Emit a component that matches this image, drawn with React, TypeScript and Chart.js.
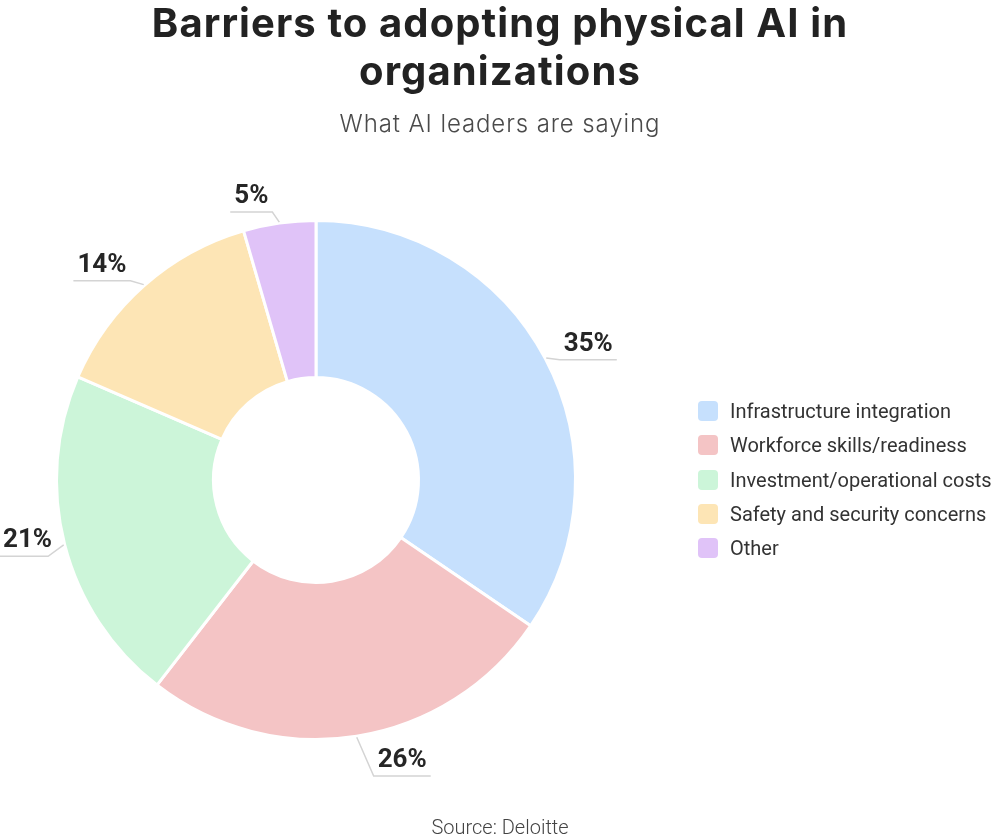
import { useEffect, useRef } from 'react'
import { Chart, DoughnutController, ArcElement } from 'chart.js'

Chart.register(DoughnutController, ArcElement);

const categories = [
  'Infrastructure integration',
  'Workforce skills/readiness',
  'Investment/operational costs',
  'Safety and security concerns',
  'Other',
];
const shares = [34.5, 26, 21, 14, 4.5];
const sliceColors = ['#c6e0fd', '#f4c4c5', '#ccf5d9', '#fde5b5', '#e0c3f8'];

// leader lines + percentage labels, text sits on top of a short horizontal rule
const leaderLabels = {
  id: 'leaderLabels',
  afterDatasetsDraw(chart: Chart) {
    const ctx = chart.ctx;
    const meta = chart.getDatasetMeta(0);
    const W = chart.width;
    ctx.save();
    ctx.font = '700 26px Roboto';
    ctx.textAlign = 'center';
    ctx.textBaseline = 'alphabetic';
    meta.data.forEach((el, i) => {
      const arc = el as any;
      const { x: cx, y: cy, startAngle, endAngle, outerRadius } = arc.getProps(['x', 'y', 'startAngle', 'endAngle', 'outerRadius'], true);
      const mid = (startAngle + endAngle) / 2;
      const cos = Math.cos(mid), sin = Math.sin(mid);
      const right = cos >= 0;
      const text = Math.round(shares[i]) + '%';
      const tw = ctx.measureText(text).width;
      const len = tw + 8;
      // the rule sits a little below the radial point; push out if the text would crowd the ring
      let bx = cx + cos * (outerRadius + 12);
      let by = cy + sin * (outerRadius + 12) + 8;
      let px = cos + (right ? 0.6 : -0.6), py = sin;
      const pl = Math.hypot(px, py);
      px /= pl; py /= pl;
      for (let k = 0; k < 120; k++) {
        const x0 = right ? bx : bx - len, x1 = right ? bx + len : bx;
        const y0 = by - 30, y1 = by;
        const nx = Math.max(x0, Math.min(cx, x1)), ny = Math.max(y0, Math.min(cy, y1));
        if (Math.hypot(nx - cx, ny - cy) > outerRadius + 12) break;
        bx += px; by += py;
      }
      const sx = cx + cos * (outerRadius + 1), sy = cy + sin * (outerRadius + 1);
      let ex = right ? bx + len : bx - len;
      let tx = (bx + ex) / 2;
      tx = Math.max(tw / 2 + 3, Math.min(W - tw / 2 - 3, tx));
      ex = Math.max(0, Math.min(W, ex));
      ctx.strokeStyle = '#d4d4d4';
      ctx.lineWidth = 1.5;
      ctx.beginPath();
      ctx.moveTo(sx, sy);
      ctx.lineTo(bx, by);
      ctx.lineTo(ex, by);
      ctx.stroke();
      ctx.fillStyle = '#262626';
      ctx.fillText(text, tx, by - 9);
    });
    ctx.restore();
  },
};

export default function App() {
  const canvasRef = useRef<HTMLCanvasElement>(null);
  const chartRef = useRef<Chart | null>(null);

  useEffect(() => {
    document.body.style.margin = '0';
    if (!canvasRef.current) return;
    chartRef.current?.destroy();
    chartRef.current = new Chart(canvasRef.current, {
      type: 'doughnut',
      data: {
        labels: categories,
        datasets: [{
          data: shares,
          backgroundColor: sliceColors,
          borderColor: '#ffffff',
          borderWidth: 3,
          hoverOffset: 0,
          offset: 0,
        }],
      },
      options: {
        animation: false,
        responsive: true,
        maintainAspectRatio: false,
        cutout: '39.5%',
        layout: { padding: { left: 55, right: 423, top: 219, bottom: 97 } },
        plugins: {
          legend: { display: false },
          tooltip: { enabled: false },
        },
      },
      plugins: [leaderLabels],
    });
    return () => {
      chartRef.current?.destroy();
      chartRef.current = null;
    };
  }, []);

  return (
    <div style={{ position: 'relative', width: 1000, height: 838, background: '#fff', overflow: 'hidden' }}>
      <canvas ref={canvasRef} style={{ position: 'absolute', left: 0, top: 0 }} />
      <h1 style={{
        position: 'absolute', left: 0, top: -1, width: 1000, margin: 0, textAlign: 'center',
        font: '700 40px Inter', lineHeight: '48px', letterSpacing: '1.1px', color: '#222',
      }}>
        Barriers to adopting physical AI in<br />organizations
      </h1>
      <div style={{
        position: 'absolute', left: 0, top: 108, width: 1000, textAlign: 'center',
        font: '300 24px Inter', lineHeight: '32px', letterSpacing: '0.9px', color: '#4a4a4a',
      }}>
        What AI leaders are saying
      </div>
      <div style={{ position: 'absolute', left: 698, top: 401, display: 'flex', flexDirection: 'column', gap: 14.3 }}>
        {categories.map((c, i) => (
          <div key={c} style={{ display: 'flex', alignItems: 'center', height: 20 }}>
            <span style={{ width: 20, height: 20, borderRadius: 4, background: sliceColors[i], marginRight: 12 }} />
            <span style={{ font: '400 20px Roboto', color: '#333', whiteSpace: 'nowrap' }}>{c}</span>
          </div>
        ))}
      </div>
      <div style={{
        position: 'absolute', left: 0, top: 815, width: 1000, textAlign: 'center',
        font: '300 20px Roboto', lineHeight: '24px', color: '#444',
      }}>
        Source: Deloitte
      </div>
    </div>
  );
}
